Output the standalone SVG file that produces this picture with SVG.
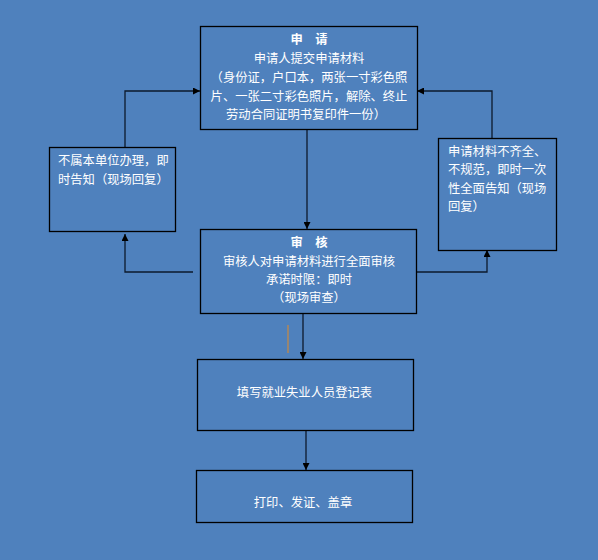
<svg xmlns="http://www.w3.org/2000/svg" width="598" height="560" viewBox="0 0 598 560">
<defs>
<style>
.box{fill:#4f81bd;stroke:#000;stroke-width:1.3}
.t{font-family:"Liberation Sans","Noto Sans CJK SC",sans-serif;font-size:12.3px;fill:#fff}
.c{text-anchor:middle}
.b{font-weight:bold}
.ln{fill:none;stroke:#0d1a2c;stroke-width:1.3}
</style>
<marker id="ah" viewBox="0 0 10 10" refX="10" refY="5" markerWidth="7" markerHeight="7" markerUnits="userSpaceOnUse" orient="auto"><path d="M0,0 L10,5 L0,10 z" fill="#000"/></marker>
</defs>
<rect width="598" height="560" fill="#4f81bd"/>
<g id="connectors">
<polyline class="ln" points="125,147 125,91 200,91" marker-end="url(#ah)"/>
<polyline class="ln" points="193,272 125,272 125,234" marker-end="url(#ah)"/>
<polyline class="ln" points="492,138 492,91 417,91" marker-end="url(#ah)"/>
<polyline class="ln" points="417,272 487,272 487,250" marker-end="url(#ah)"/>
<line class="ln" x1="307" y1="129" x2="307" y2="229" marker-end="url(#ah)"/>
<line class="ln" x1="303" y1="313" x2="303" y2="359" marker-end="url(#ah)"/>
<line x1="288" y1="325" x2="288" y2="353" stroke="#c0894a" stroke-width="1.3"/>
<line class="ln" x1="306" y1="430" x2="306" y2="470" marker-end="url(#ah)"/>
</g>
<g id="apply">
<rect class="box" x="200.5" y="26.5" width="217" height="103"/>
<text class="t c b" x="309" y="44">申　请</text>
<text class="t c" x="309" y="63">申请人提交申请材料</text>
<text class="t c" x="309" y="82">（身份证，户口本，两张一寸彩色照</text>
<text class="t c" x="309" y="101">片、一张二寸彩色照片，解除、终止</text>
<text class="t c" x="306" y="119">劳动合同证明书复印件一份）</text>
</g>
<g id="notbelong">
<rect class="box" x="49.5" y="147.5" width="126" height="84"/>
<text class="t" x="58" y="165">不属本单位办理，即</text>
<text class="t" x="58" y="184">时告知（现场回复）</text>
</g>
<g id="incomplete">
<rect class="box" x="438.5" y="138.5" width="118" height="112"/>
<text class="t" x="448" y="156">申请材料不齐全、</text>
<text class="t" x="448" y="174">不规范，即时一次</text>
<text class="t" x="448" y="192.5">性全面告知（现场</text>
<text class="t" x="448" y="210.5">回复）</text>
</g>
<g id="review">
<rect class="box" x="200.5" y="229.5" width="216" height="84"/>
<text class="t c b" x="309" y="247">审　核</text>
<text class="t c" x="309" y="265.5">审核人对申请材料进行全面审核</text>
<text class="t c" x="309" y="284">承诺时限：即时</text>
<text class="t c" x="309" y="301.5">（现场审查）</text>
</g>
<g id="fill">
<rect class="box" x="197.5" y="359.5" width="216" height="71"/>
<text class="t c" x="304.5" y="396.5">填写就业失业人员登记表</text>
</g>
<g id="print">
<rect class="box" x="196.5" y="470.5" width="216" height="52"/>
<text class="t c" x="303" y="506.5">打印、发证、盖章</text>
</g>
</svg>
